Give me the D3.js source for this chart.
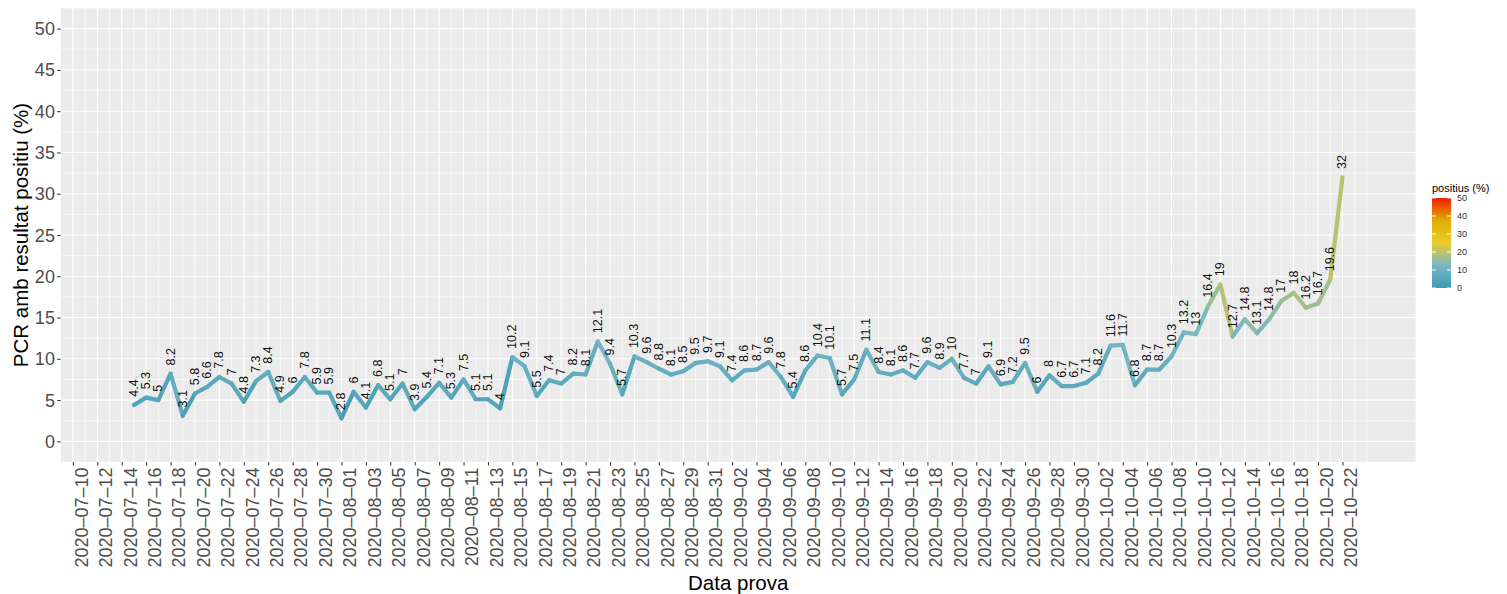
<!DOCTYPE html>
<html><head><meta charset="utf-8">
<script src="https://cdn.jsdelivr.net/npm/d3@7"></script>
<style>
body{margin:0;background:#fff}
svg{display:block}
text{font-family:"Liberation Sans",Arial,Helvetica,sans-serif}
</style>
</head><body>
<svg id="chart" width="1507" height="594"></svg>
<script>
// ---------------- data ----------------
const dates = [
 "2020-07-15","2020-07-16","2020-07-17","2020-07-18","2020-07-19","2020-07-20","2020-07-21","2020-07-22","2020-07-23","2020-07-24",
 "2020-07-25","2020-07-26","2020-07-27","2020-07-28","2020-07-29","2020-07-30","2020-07-31",
 "2020-08-01","2020-08-02","2020-08-03","2020-08-04","2020-08-05","2020-08-06","2020-08-07","2020-08-08","2020-08-09","2020-08-10",
 "2020-08-11","2020-08-12","2020-08-13","2020-08-14","2020-08-15","2020-08-16","2020-08-17","2020-08-18","2020-08-19","2020-08-20",
 "2020-08-21","2020-08-22","2020-08-23","2020-08-24","2020-08-25","2020-08-26","2020-08-27","2020-08-28","2020-08-29","2020-08-30","2020-08-31",
 "2020-09-01","2020-09-02","2020-09-03","2020-09-04","2020-09-05","2020-09-06","2020-09-07","2020-09-08","2020-09-09","2020-09-10",
 "2020-09-11","2020-09-12","2020-09-13","2020-09-14","2020-09-15","2020-09-16","2020-09-17","2020-09-18","2020-09-19","2020-09-20",
 "2020-09-21","2020-09-22","2020-09-23","2020-09-24","2020-09-25","2020-09-26","2020-09-27","2020-09-28","2020-09-29","2020-09-30",
 "2020-10-01","2020-10-02","2020-10-03","2020-10-04","2020-10-05","2020-10-06","2020-10-07","2020-10-08","2020-10-09","2020-10-10",
 "2020-10-11","2020-10-12","2020-10-13","2020-10-14","2020-10-15","2020-10-16","2020-10-17","2020-10-18","2020-10-19","2020-10-20",
 "2020-10-21","2020-10-22"
];
const positius = [
 4.4,5.3,5,8.2,3.1,5.8,6.6,7.8,7,4.8,7.3,8.4,4.9,6,7.8,5.9,5.9,
 2.8,6,4.1,6.8,5.1,7,3.9,5.4,7.1,5.3,7.5,5.1,5.1,4,10.2,9.1,5.5,7.4,7,8.2,8.1,12.1,9.4,5.7,10.3,9.6,8.8,8.1,8.5,9.5,9.7,
 9.1,7.4,8.6,8.7,9.6,7.8,5.4,8.6,10.4,10.1,5.7,7.5,11.1,8.4,8.1,8.6,7.7,9.6,8.9,10,7.7,7,9.1,6.9,7.2,9.5,6,8,6.7,6.7,
 7.1,8.2,11.6,11.7,6.8,8.7,8.7,10.3,13.2,13,16.4,19,12.7,14.8,13.1,14.8,17,18,16.2,16.7,19.6,32
];
const yTicks = [0,5,10,15,20,25,30,35,40,45,50];
const legendTicks = [0,10,20,30,40,50];
const paletteColors = ["#3B9AB2","#78B7C5","#EBCC2A","#E1AF00","#F21A00"];
const paletteStops = [0,12.5,25,37.5,50];
const xTickFirst = "2020-07-10", xTickLast = "2020-10-22";
const xDomain = ["2020-07-09","2020-10-28"];
const gridLast = "2020-10-24";
const yTitle = "PCR amb resultat positiu (%)";
const xTitle = "Data prova";
const legendTitle = "positius (%)";

// ---------------- layout ----------------
const P = {left:60.7, right:1415.7, top:8, bottom:462};
const parse = d3.utcParse("%Y-%m-%d");
const svg = d3.select("#chart");

const x = d3.scaleUtc().domain(xDomain.map(parse)).range([P.left, P.right]);
const y = d3.scaleLinear().domain([-2.5, 52.5]).range([P.bottom, P.top]);
const color = d3.scaleLinear().domain(paletteStops).range(paletteColors)
  .interpolate(d3.interpolateRgb).clamp(true);

const data = dates.map((d,i)=>({date:parse(d), v:positius[i]}));

// panel
svg.append("rect").attr("x",P.left).attr("y",P.top)
  .attr("width",P.right-P.left).attr("height",P.bottom-P.top).attr("fill","#EBEBEB");

const grid = svg.append("g");
const gridDays = d3.utcDay.range(parse(xDomain[0]), d3.utcDay.offset(parse(gridLast),1));
const firstMajor = parse(xTickFirst);
gridDays.forEach(d=>{
  const off = Math.round((d - firstMajor)/864e5);
  const major = off>=0 && off%2===0 && d<=parse(xTickLast);
  grid.append("line").attr("x1",x(d)).attr("x2",x(d)).attr("y1",P.top).attr("y2",P.bottom)
    .attr("stroke","#fff").attr("stroke-width", major?1.1:0.55);
});
d3.range(-2.5, 53, 2.5).forEach(v=>{
  const major = Math.abs(v%5)<1e-9;
  grid.append("line").attr("x1",P.left).attr("x2",P.right).attr("y1",y(v)).attr("y2",y(v))
    .attr("stroke","#fff").attr("stroke-width", major?1.1:0.55);
});

// line segments coloured by start value
const segs = svg.append("g");
for(let i=0;i<data.length-1;i++){
  segs.append("line")
    .attr("x1",x(data[i].date)).attr("y1",y(data[i].v))
    .attr("x2",x(data[i+1].date)).attr("y2",y(data[i+1].v))
    .attr("stroke",color(data[i].v)).attr("stroke-width",4.2)
    .attr("stroke-linecap","round");
}

// value labels
svg.append("g").selectAll("text").data(data).join("text")
  .attr("transform",d=>`translate(${x(d.date)},${y(d.v+1)}) rotate(-90)`)
  .attr("text-anchor","start").attr("dominant-baseline","central")
  .attr("font-size",12.5).attr("fill","#111")
  .text(d=>d.v);

// x axis
const tickDates = d3.utcDay.range(parse(xTickFirst), d3.utcDay.offset(parse(xTickLast),1), 2);
const fmt = d3.utcFormat("%Y-%m-%d");
const xAxis = svg.append("g").attr("transform",`translate(0,${P.bottom})`)
  .call(d3.axisBottom(x).tickValues(tickDates).tickSize(3.6).tickFormat(d=>fmt(d).replace(/-/g,"\u2013")));
xAxis.select(".domain").remove();
xAxis.selectAll(".tick line").attr("stroke","#333").attr("stroke-width",1);
xAxis.selectAll(".tick text")
  .attr("x",-5.5).attr("y",14.3).attr("dy",null)
  .attr("transform","rotate(-90)").style("text-anchor","end")
  .attr("font-size",18).attr("fill","#4D4D4D").attr("font-family",null);

// y axis
const yAxis = svg.append("g").attr("transform",`translate(${P.left},0)`)
  .call(d3.axisLeft(y).tickValues(yTicks).tickSize(3.6).tickPadding(2.2));
yAxis.select(".domain").remove();
yAxis.selectAll(".tick line").attr("stroke","#333").attr("stroke-width",1);
yAxis.selectAll(".tick text").attr("dy",null).attr("dominant-baseline","central")
  .attr("font-size",18).attr("fill","#4D4D4D").attr("font-family",null);

// titles
svg.append("text").attr("transform",`translate(28,${(P.top+P.bottom)/2}) rotate(-90)`)
  .attr("text-anchor","middle").attr("font-size",20.5).attr("fill","#000").text(yTitle);
svg.append("text").attr("x",(P.left+P.right)/2).attr("y",590)
  .attr("text-anchor","middle").attr("font-size",20.5).attr("fill","#000").text(xTitle);

// legend
const L = {x:1432, w:19, top:198, bottom:288};
const ly = d3.scaleLinear().domain([0,50]).range([L.bottom, L.top]);
const defs = svg.append("defs");
const grad = defs.append("linearGradient").attr("id","lg").attr("x1",0).attr("y1",1).attr("x2",0).attr("y2",0);
d3.range(0,51,1).forEach(v=>grad.append("stop").attr("offset",v/50).attr("stop-color",color(v)));
svg.append("text").attr("x",L.x).attr("y",192).attr("font-size",11).attr("fill","#000").text(legendTitle);
svg.append("rect").attr("x",L.x).attr("y",L.top).attr("width",L.w).attr("height",L.bottom-L.top).attr("fill","url(#lg)");
const lg = svg.append("g");
legendTicks.forEach(v=>{
  lg.append("line").attr("x1",L.x).attr("x2",L.x+3.8).attr("y1",ly(v)).attr("y2",ly(v)).attr("stroke","#fff").attr("stroke-width",1);
  lg.append("line").attr("x1",L.x+L.w-3.8).attr("x2",L.x+L.w).attr("y1",ly(v)).attr("y2",ly(v)).attr("stroke","#fff").attr("stroke-width",1);
  lg.append("text").attr("x",L.x+L.w+6).attr("y",ly(v)).attr("dominant-baseline","central")
    .attr("font-size",9).attr("fill","#333").text(v);
});
</script>
</body></html>
